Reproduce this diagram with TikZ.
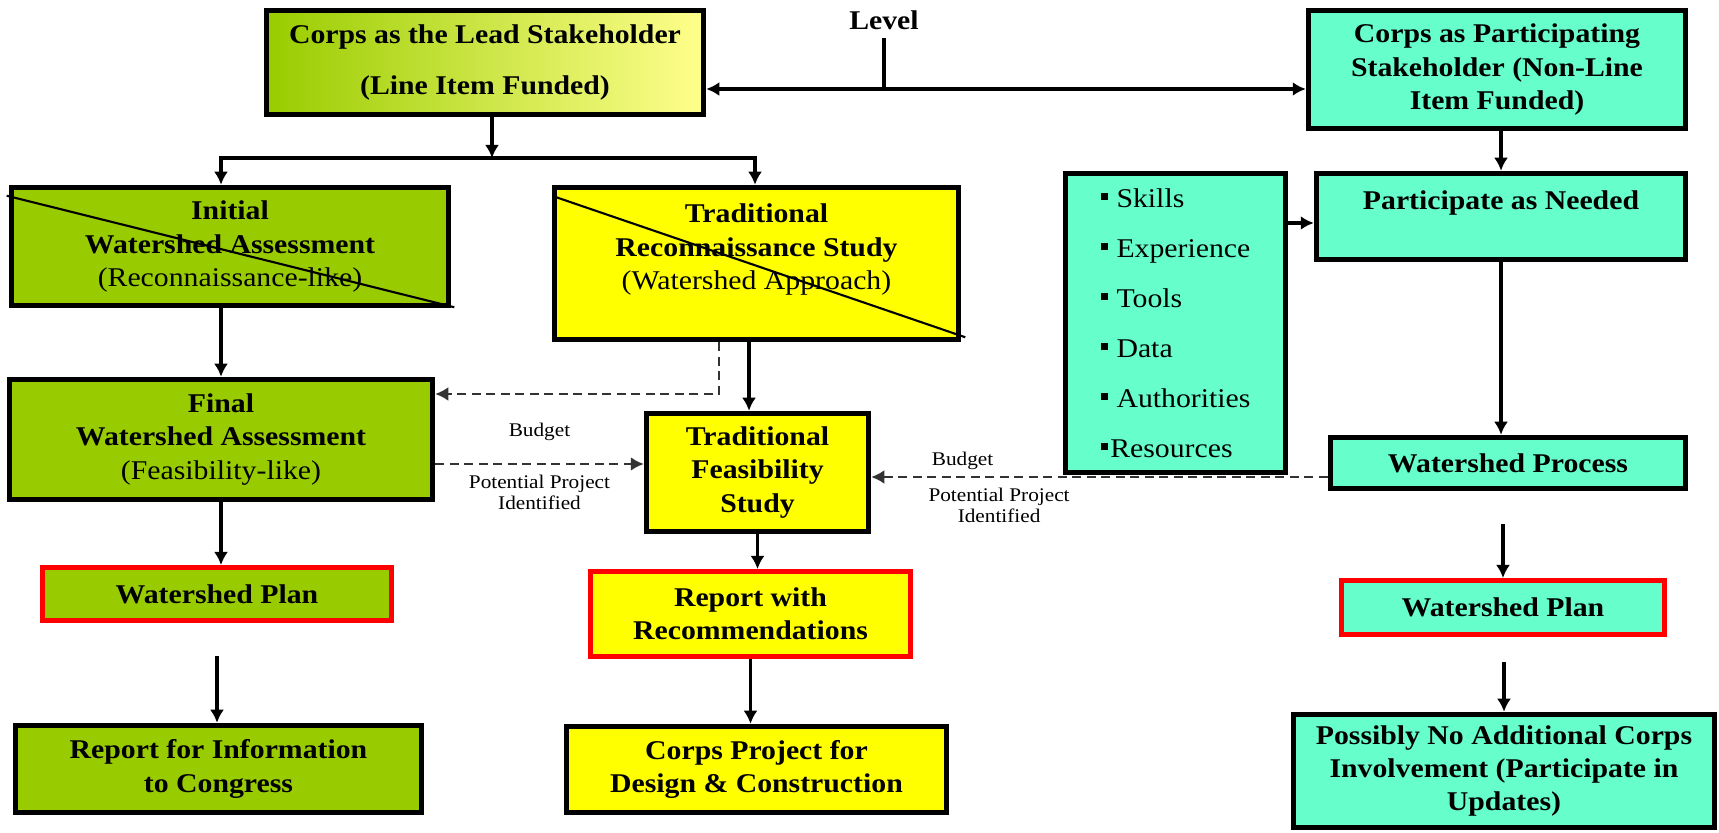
\documentclass[tikz,border=0pt]{standalone}
\usepackage{fontspec}
\setmainfont{Liberation Serif}[FakeStretch=1.1]
\usepackage{tikz}
\usetikzlibrary{arrows.meta}
\definecolor{grn}{HTML}{99CC00}
\definecolor{yel}{HTML}{FFFF00}
\definecolor{aqua}{HTML}{66FFCC}
\definecolor{paleyel}{HTML}{FFFF8C}
\definecolor{dashgray}{HTML}{333333}
\newcommand{\sqbullet}{\rule[0.26em]{0.26em}{0.26em}}
\tikzset{
	box/.style={draw=black, line width=1.1mm, align=center, inner sep=0pt, font=\fontsize{15.4}{19}\selectfont\bfseries},
	redbox/.style={box, draw=red, line width=1mm},
	arr/.style={line width=2pt, >={Latex[length=2.6mm,width=2.8mm]}, ->},
	dasharr/.style={line width=1.4pt, draw=dashgray, dash pattern=on 1.8mm off 1.1mm, >={Latex[length=2.6mm,width=2.8mm]}, ->},
	strike/.style={line width=1.2pt},
	note/.style={font=\fontsize{11}{12}\selectfont, align=center, inner sep=0pt},
}

\begin{document}
\begin{tikzpicture}[x=0.2mm, y=-0.2mm]
	\useasboundingbox (0,0) rectangle (1719,833);
	\node[box, left color=grn, right color=paleyel, minimum width=87.4mm, minimum height=20.8mm] (lead) at (485,62.5) {Corps as the Lead Stakeholder\\[10pt](Line Item Funded)};
	\node[box, fill=aqua, minimum width=75.4mm, minimum height=23.6mm] (part) at (1497,69.5) {Corps as Participating\\Stakeholder (Non-Line\\Item Funded)};
	\node[font=\fontsize{15.4}{19}\selectfont\bfseries] (level) at (884,20) {Level};
	\node[box, fill=grn, minimum width=87.4mm, minimum height=23.6mm] (init) at (230,246.5) {Initial\\Watershed Assessment\\{\mdseries(Reconnaissance-like)}};
	\node[box, fill=yel, minimum width=80.8mm, minimum height=30.4mm] (recon) at (756.5,263.5) {Traditional\\Reconnaissance Study\\{\mdseries(Watershed Approach)}\\\mbox{}};
	\node[box, fill=grn, minimum width=84.6mm, minimum height=24mm] (final) at (221,439.5) {Final\\Watershed Assessment\\{\mdseries(Feasibility-like)}};
	\node[box, fill=yel, minimum width=44.4mm, minimum height=23.6mm] (feas) at (757.5,472.5) {Traditional\\Feasibility\\Study};
	\node[box, fill=aqua, minimum width=44mm, minimum height=59.8mm, align=left, font=\fontsize{15.4}{28.5}\selectfont] (list) at (1175.5,323) {\sqbullet\hspace{0.33em}Skills\\\sqbullet\hspace{0.33em}Experience\\\sqbullet\hspace{0.33em}Tools\\\sqbullet\hspace{0.33em}Data\\\sqbullet\hspace{0.33em}Authorities\\\sqbullet\hspace{0.1em}Resources};
	\node[box, fill=aqua, minimum width=73.8mm, minimum height=17.2mm] (partneed) at (1501,216.5) {Participate as Needed\\\mbox{}};
	\node[box, fill=aqua, minimum width=71mm, minimum height=10.2mm] (wproc) at (1508,463) {Watershed Process};
	\node[redbox, fill=grn, minimum width=69.8mm, minimum height=10.6mm] (wplanL) at (217,594) {Watershed Plan};
	\node[redbox, fill=yel, minimum width=64mm, minimum height=17mm] (recrep) at (750.5,614) {Report with\\Recommendations};
	\node[redbox, fill=aqua, minimum width=64.6mm, minimum height=10.8mm] (wplanR) at (1503,607.5) {Watershed Plan};
	\node[box, fill=grn, minimum width=81.2mm, minimum height=17.4mm] (congress) at (218.5,769) {Report for Information\\to Congress};
	\node[box, fill=yel, minimum width=76mm, minimum height=17.2mm] (corpsproj) at (756.5,769.5) {Corps Project for\\Design \& Construction};
	\node[box, fill=aqua, minimum width=84.2mm, minimum height=22.6mm] (possibly) at (1504,771) {Possibly No Additional Corps\\Involvement (Participate in\\Updates)};

	\draw[strike] ([shift={(-2,11)}]init.north west) -- ([shift={(3,-1)}]init.south east);
	\draw[strike] ([shift={(3,12)}]recon.north west) -- ([shift={(4,-5)}]recon.south east);

	\coordinate (lvltop) at (884,38);
	\coordinate (lvl) at (884,89);
	\draw[line width=2pt] (lvltop) -- (lvl);
	\draw[arr, <->] (lead.east |- lvl) -- (part.west |- lvl);

	\coordinate (br) at (492,158);
	\coordinate (brL) at (221,158);
	\coordinate (brR) at (755,158);
	\draw[arr] (br |- lead.south) -- (br);
	\draw[arr] (br) -- (brL) -- (brL |- init.north);
	\draw[arr] (br) -- (brR) -- (brR |- recon.north);

	\draw[arr] (brL |- init.south) -- (brL |- final.north);
	\coordinate (dk) at (719,394);
	\draw[dasharr] (dk |- recon.south) -- (dk) -- (dk -| final.east);
	\draw[arr] ([xshift=-1.5mm]recon.south) -- ([xshift=-1.5mm]recon.south |- feas.north);

	\coordinate (fb) at ([yshift=-4.9mm]final.east);
	\draw[dasharr] (fb) -- (fb -| feas.west) node[pos=.5, above=4.4mm, note] (bud1) {Budget} node[pos=.5, below=1.9mm, note] (pot1) {Potential Project\\Identified};

	\coordinate (wr) at ([yshift=-2.8mm]wproc.west);
	\draw[dasharr] (wr) -- (wr -| feas.east) node[pos=.8, above=1.2mm, note] (bud2) {Budget} node[pos=.72, below=1.9mm, note] (pot2) {Potential Project\\Identified};

	\draw[arr] (part.south -| partneed.north) -- (partneed.north);
	\coordinate (pn) at ([yshift=-1.3mm]partneed.west);
	\draw[arr] (list.east |- pn) -- (pn);
	\draw[arr] (partneed.south) -- (partneed.south |- wproc.north);
	\draw[arr, shorten <=6.6mm] (wplanR.north |- wproc.south) -- (wplanR.north);
	\draw[arr, shorten <=5mm] (wplanR.south -| possibly.north) -- (possibly.north);

	\draw[arr] (final.south) -- (final.south |- wplanL.north);
	\draw[arr, shorten <=6.6mm] (wplanL.south) -- (wplanL.south |- congress.north);
	\draw[arr] (feas.south) -- (feas.south |- recrep.north);
	\draw[arr] (recrep.south) -- (recrep.south |- corpsproj.north);
\end{tikzpicture}
\end{document}
